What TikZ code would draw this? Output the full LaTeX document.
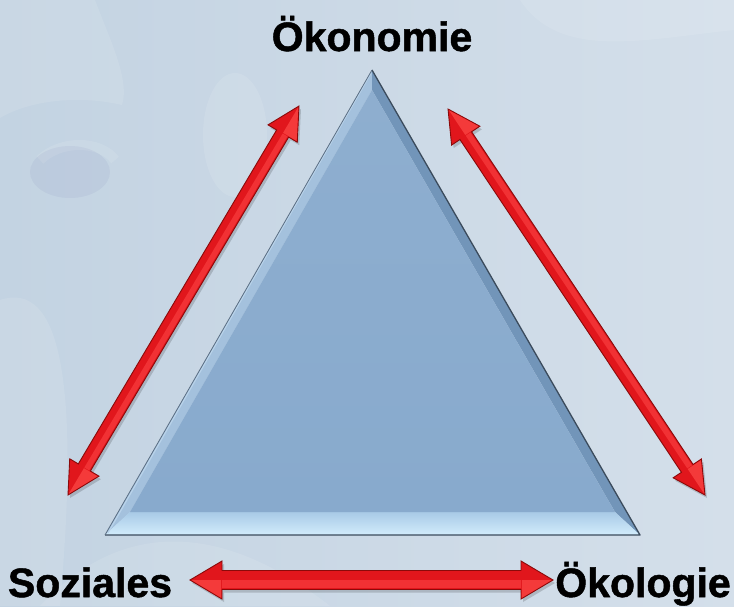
\documentclass[tikz,border=0pt]{standalone}
\usepackage{fontspec}
\setmainfont{Liberation Sans}[BoldFeatures={FakeBold=1.2}]
\usetikzlibrary{calc}

\definecolor{bgLeft}{HTML}{C3D3E2}
\definecolor{bgRight}{HTML}{D4DFEA}
\definecolor{faceMain}{HTML}{88AACD}
\definecolor{faceLeft}{HTML}{A4C1DD}
\definecolor{faceRight}{HTML}{7295B9}
\definecolor{faceBotTop}{HTML}{A8CAE6}
\definecolor{faceBotBot}{HTML}{D2ECFC}
\definecolor{edgeDark}{HTML}{3B4B5C}
\definecolor{edgeLight}{HTML}{B9D3EA}
\definecolor{arrowRed}{HTML}{E1161C}
\definecolor{arrowEdge}{HTML}{8A0A0A}
\definecolor{arrowLight}{HTML}{FF4848}
\definecolor{arrowFacet}{HTML}{F43A3A}

\tikzset{
  label/.style={font=\bfseries\fontsize{41}{41}\selectfont, text=black, inner sep=0pt},
  arrowbody/.style={fill=arrowRed, draw=arrowEdge, line width=0.9pt, line join=miter},
  arrowshade/.style={fill=black, opacity=0.16},
  arrowshine/.style={draw=arrowLight, opacity=0.55, line cap=butt},
  arrowfacet/.style={fill=arrowFacet},
}

% red double-headed arrow between two named points:
% #1 from, #2 to, #3 shaft half width, #4 head half width, #5 head length
\newcommand\redarrow[5]{%
  \fill[arrowshade] let \p1=($(#2)-(#1)$), \n1={veclen(\x1,\y1)}, \n2={atan2(\y1,\x1)} in
    [shift={($(#1)+(2,3)$)}, rotate=\n2]
    (0,0) -- (#5,#4) -- (#5,#3) -- (\n1-#5,#3) -- (\n1-#5,#4) -- (\n1,0)
    -- (\n1-#5,-#4) -- (\n1-#5,-#3) -- (#5,-#3) -- (#5,-#4) -- cycle;
  \filldraw[arrowbody] let \p1=($(#2)-(#1)$), \n1={veclen(\x1,\y1)}, \n2={atan2(\y1,\x1)} in
    [shift={(#1)}, rotate=\n2]
    (0,0) -- (#5,#4) -- (#5,#3) -- (\n1-#5,#3) -- (\n1-#5,#4) -- (\n1,0)
    -- (\n1-#5,-#4) -- (\n1-#5,-#3) -- (#5,-#3) -- (#5,-#4) -- cycle;
  \fill[arrowfacet] let \p1=($(#2)-(#1)$), \n1={veclen(\x1,\y1)}, \n2={atan2(\y1,\x1)} in
    [shift={(#1)}, rotate=\n2]
    (1.5,0) -- (#5-0.8,#4-1.2) -- (#5-0.8,0) -- cycle
    (\n1-1.5,0) -- (\n1-#5+0.8,#4-1.2) -- (\n1-#5+0.8,0) -- cycle;
  \draw[arrowshine, line width=#3*0.8pt] let \p1=($(#2)-(#1)$), \n1={veclen(\x1,\y1)}, \n2={atan2(\y1,\x1)} in
    [shift={(#1)}, rotate=\n2]
    (#5,#3*0.4) -- (\n1-#5,#3*0.4);
}

\begin{document}
\begin{tikzpicture}[x=1pt, y=-1pt]
\useasboundingbox (0,0) rectangle (734,606);

% backdrop with a faint portrait
\shade[left color=bgLeft, right color=bgRight] (0,0) rectangle (734,606);
\begin{scope}[opacity=0.10]
  \fill[white] (0,0) -- (95,0) .. controls (110,40) and (130,80) .. (122,105)
    .. controls (80,95) and (30,100) .. (0,118) -- cycle;
  \fill[white] (235,135) ellipse [x radius=32, y radius=62];
  \fill[white] (0,300) .. controls (60,280) and (80,380) .. (60,606) -- (0,606) -- cycle;
  \fill[white] (40,606) .. controls (120,520) and (220,520) .. (330,606) -- cycle;
  \fill[white] (520,0) .. controls (560,60) and (640,40) .. (734,30) -- (734,0) -- cycle;
  \draw[white, line width=10pt] (40,160) .. controls (60,140) and (100,140) .. (115,160);
\end{scope}
\fill[black!60!blue, opacity=0.04] (70,172) ellipse [x radius=40, y radius=26];

% bevelled triangle
\coordinate (A) at (372,70);
\coordinate (B) at (105,535);
\coordinate (C) at (640,535);
\coordinate (Ai) at (372,90);
\coordinate (Bi) at (130,512);
\coordinate (Ci) at (615,512);

\fill[faceLeft] (A) -- (B) -- (Bi) -- (Ai) -- cycle;
\fill[faceRight] (A) -- (C) -- (Ci) -- (Ai) -- cycle;
\shade[top color=faceBotTop, bottom color=faceBotBot] (B) -- (C) -- (Ci) -- (Bi) -- cycle;
\shade[top color=faceMain!95!white, bottom color=faceMain] (Ai) -- (Bi) -- (Ci) -- cycle;
\draw[edgeLight, line width=1.2pt] ($(A)+(-1,3)$) -- ($(B)+(3,-2)$);
\draw[edgeDark, line width=1.3pt, line join=round] (A) -- (C) -- (B);
\draw[edgeDark!70!faceLeft, line width=0.8pt] (A) -- (B);

% labels at the three corners
\node[label, anchor=base] (oek) at (372,51) {Ökonomie};
\node[label, anchor=base] (soz) at (90,597) {Soziales};
\node[label, anchor=base] (oko) at (643,597) {Ökologie};

% arrow end points
\coordinate (la1) at (299,106);
\coordinate (la2) at (68,495);
\coordinate (ra1) at (448,109);
\coordinate (ra2) at (705,495);
\coordinate (ba1) at (190,580);
\coordinate (ba2) at (553,580);

\redarrow{la2}{la1}{7}{17}{32}
\redarrow{ra2}{ra1}{7}{17}{32}
\redarrow{ba1}{ba2}{9.5}{19}{32}
\end{tikzpicture}
\end{document}
